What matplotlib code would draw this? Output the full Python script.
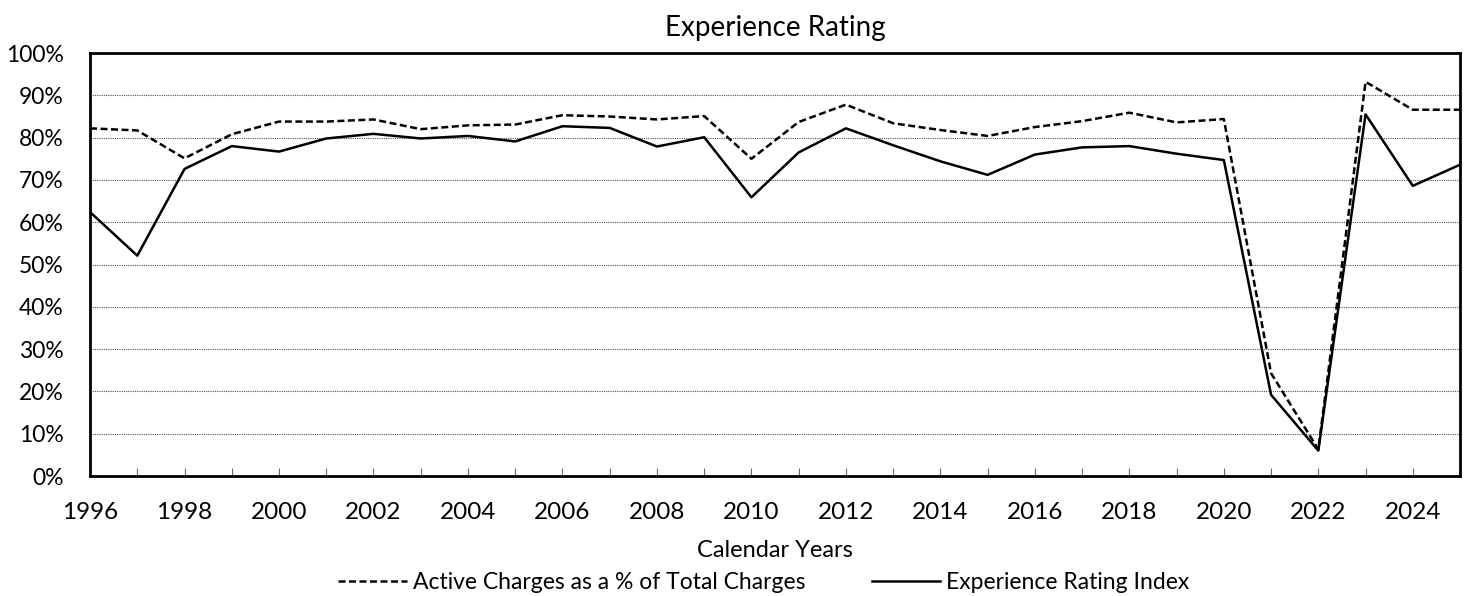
import matplotlib.pyplot as plt
from matplotlib.ticker import FuncFormatter, MultipleLocator

years = list(range(1996, 2026))

active_pct = [82.2, 81.7, 75.1, 80.8, 83.8, 83.8, 84.3, 82.0, 82.9, 83.1,
              85.3, 85.0, 84.3, 85.1, 75.0, 83.7, 87.8, 83.4, 81.8, 80.4,
              82.5, 83.9, 85.9, 83.6, 84.4, 24.3, 6.3, 93.2, 86.6, 86.6]

rating_index = [62.4, 52.1, 72.6, 78.0, 76.7, 79.8, 80.9, 79.8, 80.4, 79.1,
                82.7, 82.3, 77.9, 80.1, 65.9, 76.5, 82.2, 78.2, 74.4, 71.2,
                76.0, 77.7, 78.0, 76.2, 74.7, 19.2, 6.0, 85.5, 68.6, 73.6]

plt.rcParams['font.family'] = ['Lato', 'DejaVu Sans']
plt.rcParams['text.color'] = 'black'

fig = plt.figure(figsize=(14.69, 5.96), dpi=100)
ax = fig.add_axes([0.0613, 0.2013, 0.9326, 0.7097])

ax.plot(years, active_pct, color='black', lw=1.8, linestyle=(0, (2.8, 1.4)),
        label='Active Charges as a % of Total Charges')
ax.plot(years, rating_index, color='black', lw=1.8,
        label='Experience Rating Index')

ax.set_xlim(1996, 2025)
ax.set_ylim(0, 100)
ax.yaxis.set_major_locator(MultipleLocator(10))
ax.yaxis.set_major_formatter(FuncFormatter(lambda v, _: f"{v:.0f}%"))
ax.tick_params(axis='y', length=0, labelsize=16.5, pad=19, labelcolor='black')

ax.set_xticks(years)
ax.set_xticklabels([str(y) if y % 2 == 0 else '' for y in years])
ax.tick_params(axis='x', direction='in', length=6, color='#666666',
               labelsize=17.5, pad=19, labelcolor='black')

for v in range(10, 100, 10):
    ax.axhline(v, color='#555555', lw=0.8, linestyle=(0, (1, 1)), zorder=0)

for s in ax.spines.values():
    s.set_linewidth(2)
    s.set_color('black')

ax.set_title('Experience Rating', fontsize=20, pad=12)
ax.set_xlabel('Calendar Years', fontsize=17, labelpad=12)

fig.legend(loc='lower center', bbox_to_anchor=(0.52, -0.03), ncol=2,
           frameon=False, fontsize=16.5, handlelength=3.0, handletextpad=0.25,
           columnspacing=2.9)

fig.savefig('out.png', dpi=100)
